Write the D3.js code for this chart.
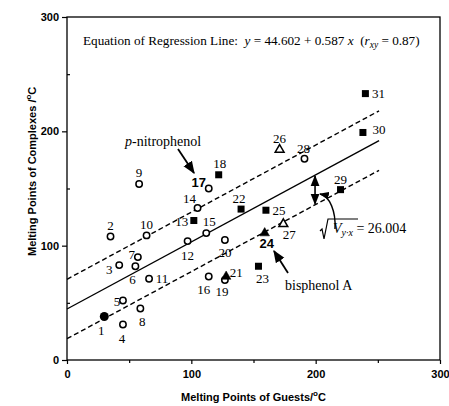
<!DOCTYPE html>
<html>
<head>
<meta charset="utf-8">
<script src="https://cdn.jsdelivr.net/npm/d3@7"></script>
<style>
  body { margin: 0; background: #fff; }
  svg { display: block; }
  text { fill: #000; }
  .pt-label { font-family: "Liberation Serif", "Times New Roman", serif; font-size: 13px; }
  .bold-label { font-family: "Liberation Sans", Arial, sans-serif; font-size: 13px; font-weight: bold; }
  .axis-title { font-family: "Liberation Sans", Arial, sans-serif; font-size: 11px; font-weight: bold; }
  .tick-label { font-family: "Liberation Sans", Arial, sans-serif; font-size: 11px; font-weight: bold; }
  .note { font-family: "Liberation Serif", "Times New Roman", serif; font-size: 14px; }
  .eq { font-family: "Liberation Serif", "Times New Roman", serif; font-size: 13.2px; }
</style>
</head>
<body>
<svg width="449" height="406"></svg>
<script>
// data
var ids = [1,2,3,4,5,6,7,8,9,10,11,12,13,14,15,16,17,18,19,20,21,22,23,24,25,26,27,28,29,30,31];
var guestMP = [30, 35, 42, 45, 45, 55, 57, 59, 58, 64, 66, 97, 102, 105, 112, 114, 114, 122, 127, 127, 128, 140, 154, 159, 160, 171, 174, 191, 220, 238, 240];
var complexMP = [38, 108, 83, 31, 52, 82, 90, 45, 154, 109, 71, 104, 122, 133, 111, 73, 150, 162, 70, 105, 73, 132, 82, 111, 131, 184, 119, 176, 149, 199, 233];
var markers = ["dot","circle","circle","circle","circle","circle","circle","circle","circle","circle",
               "circle","circle","square","circle","circle","circle","circle","square","circle","circle",
               "triangle","square","square","triangle","square","openTriangle","openTriangle","circle","square","square","square"];
var boldIds = [17, 24];
var majorTicks = [0, 100, 200, 300];
var minorTicks = [50, 150, 250];

// regression
var intercept = 44.602, slope = 0.587, vyx = 26.004;
var lineRange = [0, 251];

// label offsets in px, [dx, dy] from the mark
var labelOffsets = {
  1:[-3,14], 2:[0,-11], 3:[-10,4], 4:[-1,14], 5:[-6,1], 6:[-3,13], 7:[-6,-3], 8:[2,13],
  9:[0,-11], 10:[0,-11], 11:[13,0], 12:[0,14], 13:[-12,1], 14:[-8,-9], 15:[3,-12], 16:[-5,13],
  17:[-10,-6], 18:[1,-11], 19:[-3,12], 20:[0,13], 21:[10,-4], 22:[-2,-11], 23:[4,12], 24:[2,10],
  25:[13,0], 26:[0,-11], 27:[6,11], 28:[-1,-10], 29:[0,-10], 30:[16,-3], 31:[13,0]
};

var svg = d3.select("svg");
var x = d3.scaleLinear().domain([0, 300]).range([67, 440]);
var y = d3.scaleLinear().domain([0, 300]).range([360, 17]);

var defs = svg.append("defs");
defs.append("marker")
    .attr("id", "head")
    .attr("viewBox", "0 0 10 10")
    .attr("refX", 9).attr("refY", 5)
    .attr("markerWidth", 7).attr("markerHeight", 7)
    .attr("orient", "auto-start-reverse")
  .append("path")
    .attr("d", "M0,1 L10,5 L0,9 Z")
    .attr("fill", "#000");

// frame
svg.append("rect")
    .attr("x", x(0)).attr("y", y(300))
    .attr("width", x(300) - x(0)).attr("height", y(0) - y(300))
    .attr("fill", "none").attr("stroke", "#000").attr("stroke-width", 1.3);

// axes
svg.append("g")
    .attr("transform", "translate(0," + y(0) + ")")
    .call(d3.axisBottom(x).tickValues(majorTicks).tickSize(4).tickPadding(6));
svg.append("g")
    .attr("transform", "translate(0," + y(0) + ")")
    .call(d3.axisBottom(x).tickValues(minorTicks).tickSize(3).tickFormat(""));
svg.append("g")
    .attr("transform", "translate(" + x(0) + ",0)")
    .call(d3.axisLeft(y).tickValues(majorTicks).tickSize(5).tickPadding(3));
svg.append("g")
    .attr("transform", "translate(" + x(0) + ",0)")
    .call(d3.axisRight(y).tickValues(minorTicks).tickSize(3).tickFormat(""));
svg.selectAll(".domain").remove();
svg.selectAll(".tick line").attr("stroke", "#000").attr("stroke-width", 1.2);
svg.selectAll(".tick text").attr("class", "tick-label").attr("fill", "#000");

// axis titles
var xt = svg.append("text")
    .attr("class", "axis-title")
    .attr("x", x(150)).attr("y", 401)
    .attr("text-anchor", "middle")
    .text("Melting Points of Guests/");
xt.append("tspan").attr("dy", -5).attr("font-size", 8).text("o");
xt.append("tspan").attr("dy", 5).text("C");

var yt = svg.append("text")
    .attr("class", "axis-title")
    .attr("transform", "translate(36," + y(165) + ") rotate(-90)")
    .attr("text-anchor", "middle")
    .text("Melting Points of Complexes /");
yt.append("tspan").attr("dy", -5).attr("font-size", 8).text("o");
yt.append("tspan").attr("dy", 5).text("C");

// regression line and +-Vyx band
var bands = [{off: 0, dash: null}, {off: vyx, dash: "5,3"}, {off: -vyx, dash: "5,3"}];
svg.selectAll(".reg")
    .data(bands)
  .enter().append("line")
    .attr("class", "reg")
    .attr("x1", x(lineRange[0]))
    .attr("y1", function(d) { return y(intercept + d.off + slope * lineRange[0]); })
    .attr("x2", x(lineRange[1]))
    .attr("y2", function(d) { return y(intercept + d.off + slope * lineRange[1]); })
    .attr("stroke", "#000")
    .attr("stroke-width", 1.4)
    .attr("stroke-dasharray", function(d) { return d.dash; });

// points
var pts = ids.map(function(id, i) {
  return {id: id, gx: guestMP[i], cy: complexMP[i], m: markers[i]};
});

var g = svg.append("g");
pts.forEach(function(d) {
  var px = x(d.gx), py = y(d.cy);
  if (d.m == "circle") {
    g.append("circle").attr("cx", px).attr("cy", py).attr("r", 3.2)
      .attr("fill", "#fff").attr("stroke", "#000").attr("stroke-width", 1.5);
  } else if (d.m == "dot") {
    g.append("circle").attr("cx", px).attr("cy", py).attr("r", 4.5).attr("fill", "#000");
  } else if (d.m == "square") {
    g.append("rect").attr("x", px - 3.5).attr("y", py - 3.5).attr("width", 7).attr("height", 7).attr("fill", "#000");
  } else {
    var open = d.m == "openTriangle";
    g.append("path")
      .attr("d", d3.symbol().type(d3.symbolTriangle).size(open ? 34 : 40)())
      .attr("transform", "translate(" + px + "," + py + ")")
      .attr("fill", open ? "#fff" : "#000")
      .attr("stroke", "#000").attr("stroke-width", open ? 1.5 : 0.5);
  }
});

// point labels
svg.append("g").attr("opacity", 0.999)
  .selectAll(".lbl")
    .data(pts)
  .enter().append("text")
    .attr("class", function(d) { return boldIds.indexOf(d.id) >= 0 ? "bold-label" : "pt-label"; })
    .attr("x", function(d) { return x(d.gx) + labelOffsets[d.id][0]; })
    .attr("y", function(d) { return y(d.cy) + labelOffsets[d.id][1]; })
    .attr("text-anchor", "middle")
    .attr("dominant-baseline", "central")
    .text(function(d) { return d.id; });

// equation at top
var eq = svg.append("text").attr("class", "eq").attr("x", 83).attr("y", 45)
    .attr("xml:space", "preserve");
eq.append("tspan").text("Equation of Regression Line:  ");
eq.append("tspan").attr("font-style", "italic").text("y");
eq.append("tspan").text(" = 44.602 + 0.587 ");
eq.append("tspan").attr("font-style", "italic").text("x");
eq.append("tspan").text("  (");
eq.append("tspan").attr("font-style", "italic").text("r");
eq.append("tspan").attr("font-style", "italic").attr("font-size", 9.5).attr("dy", 3).text("xy");
eq.append("tspan").attr("dy", -3).text(" = 0.87)");

// p-nitrophenol pointer
svg.append("text").attr("class", "note").attr("x", 125).attr("y", 146)
    .call(function(t) {
      t.append("tspan").attr("font-style", "italic").text("p");
      t.append("tspan").text("-nitrophenol");
    });
svg.append("line")
    .attr("x1", 178).attr("y1", 149).attr("x2", 194).attr("y2", 173)
    .attr("stroke", "#000").attr("stroke-width", 1.8).attr("marker-end", "url(#head)");

// bisphenol A pointer
svg.append("text").attr("class", "note").attr("x", 285).attr("y", 290).text("bisphenol A");
svg.append("line")
    .attr("x1", 288).attr("y1", 273).attr("x2", 274).attr("y2", 251)
    .attr("stroke", "#000").attr("stroke-width", 1.8).attr("marker-end", "url(#head)");

// Vyx distance arrow at x=200
var ax = 199.5;
svg.append("line")
    .attr("x1", x(ax)).attr("y1", y(intercept + slope * ax) + 1)
    .attr("x2", x(ax)).attr("y2", y(intercept - vyx + slope * ax) - 1)
    .attr("stroke", "#000").attr("stroke-width", 1.6)
    .attr("marker-start", "url(#head)").attr("marker-end", "url(#head)");
svg.append("path")
    .attr("d", "M335,229 C336,212 330,196 320,194")
    .attr("fill", "none").attr("stroke", "#000").attr("stroke-width", 1.4)
    .attr("marker-end", "url(#head)");

// sqrt(Vyx) = 26.004
svg.append("path")
    .attr("d", "M320,231 L322,229 L324,239 L328,219 L358,219")
    .attr("fill", "none").attr("stroke", "#000").attr("stroke-width", 1.2);
var vt = svg.append("text").attr("class", "note").attr("x", 333).attr("y", 233);
vt.append("tspan").attr("font-style", "italic").text("V");
vt.append("tspan").attr("font-style", "italic").attr("font-size", 10).attr("dy", 3).text("y·x");
vt.append("tspan").attr("dy", -3).text(" = 26.004");
</script>
</body>
</html>
